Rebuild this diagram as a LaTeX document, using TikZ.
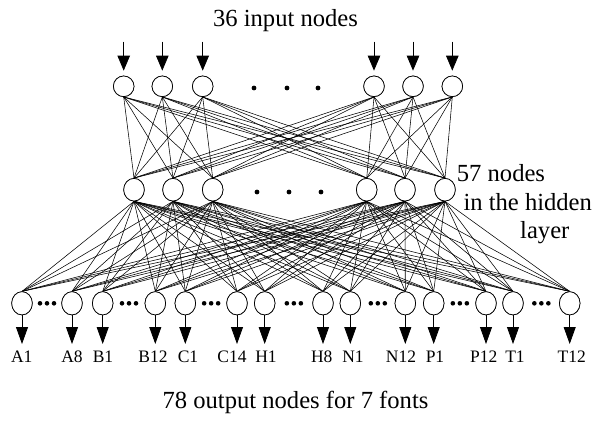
\documentclass[tikz,border=0pt]{standalone}
\usepackage{fontspec}
\setmainfont{Liberation Serif}
\usetikzlibrary{arrows.meta,shapes.geometric}
\begin{document}
\begin{tikzpicture}[x=1pt,y=-1pt,
  neuron/.style={draw,ellipse,line width=0.7pt,inner sep=0pt,minimum width=20.6pt,minimum height=#1pt,fill=white},
  neuron/.default=20.6,
  link/.style={line width=0.55pt},
  inarrow/.style={line width=0.7pt,-{Triangle[length=15pt,width=12.5pt]},shorten >=5pt},
  outarrow/.style={line width=0.8pt,-{Triangle[length=17pt,width=12pt]}},
  bigtext/.style={inner sep=0pt,font=\fontsize{24.6}{28}\selectfont},
  lbl/.style={inner sep=0pt,anchor=base,font=\fontsize{17.5}{20}\selectfont}]
\useasboundingbox (0,0) rectangle (596,421);
% input layer
\foreach \i/\x in {1/123.7,2/162.3,3/202.7,4/374,5/413,6/452.3}{
  \node[neuron] (in\i) at (\x,86.3) {};
  \coordinate (ia\i) at (\x,41.7);
}
% hidden layer
\foreach \i/\x in {1/134,2/173,3/212.7,4/366.7,5/405,6/445}{
  \node[neuron=22.6] (h\i) at (\x,189.7) {};
}
% output layer
\foreach \i/\x in {1/22,2/72,3/102.7,4/155.3,5/185.3,6/237,7/264.7,8/323,9/350.3,10/405.3,11/433.7,12/486,13/513,14/569.7}{
  \node[neuron=23.2] (o\i) at (\x,303.3) {};
  \coordinate (oa\i) at (\x,344);
}
% connections
\foreach \i in {1,...,6}{
  \foreach \j in {1,...,6}{
    \draw[link] (in\i.south) -- (h\j.north);
  }
}
\foreach \i in {1,...,6}{
  \foreach \j in {1,...,14}{
    \draw[link] (h\i.south) -- (o\j.north);
  }
}
% redraw nodes on top of the links
\foreach \i/\x in {1/123.7,2/162.3,3/202.7,4/374,5/413,6/452.3}{
  \node[neuron] at (\x,86.3) {};
}
\foreach \i/\x in {1/134,2/173,3/212.7,4/366.7,5/405,6/445}{
  \node[neuron=22.6] at (\x,189.7) {};
}
\foreach \i/\x in {1/22,2/72,3/102.7,4/155.3,5/185.3,6/237,7/264.7,8/323,9/350.3,10/405.3,11/433.7,12/486,13/513,14/569.7}{
  \node[neuron=23.2] at (\x,303.3) {};
}
% arrows
\foreach \i in {1,...,6}{ \draw[inarrow] (ia\i) -- (in\i.north); }
\foreach \i in {1,...,14}{ \draw[outarrow] (o\i.south) -- (oa\i); }
% dots
\foreach \x in {254,287,318}{ \fill (\x,88) circle (2.4); }
\foreach \x in {257,289,321}{ \fill (\x,192) circle (2.4); }
\foreach \a/\b in {1/2,3/4,5/6,7/8,9/10,11/12,13/14}{
  \path (o\a.east) -- (o\b.west) coordinate[pos=0.5] (m\a);
  \foreach \d in {-7,0,7}{ \fill ([xshift=\d pt]m\a) circle (2.3); }
}
% labels
\foreach \i/\x/\t in {1/21.7/A1,2/72/A8,3/103/B1,4/153/B12,5/188/C1,6/232/C14,7/266/H1,8/321.7/H8,9/353/N1,10/401/N12,11/435/P1,12/483.7/P12,13/515/T1,14/571.7/T12}{
  \node[lbl] (l\i) at (\x,362.7) {\t};
}
\node[bigtext,anchor=base] (tin) at (285.5,26) {36 input nodes};
\node[bigtext,anchor=base] (tout) at (295.5,408) {78 output nodes for 7 fonts};
\node[bigtext,anchor=base west] (th1) at (456.7,181.7) {57 nodes};
\node[bigtext,anchor=base west] (th2) at (463.3,210) {in the hidden};
\node[bigtext,anchor=base west] (th3) at (520,238) {layer};
\end{tikzpicture}
\end{document}
